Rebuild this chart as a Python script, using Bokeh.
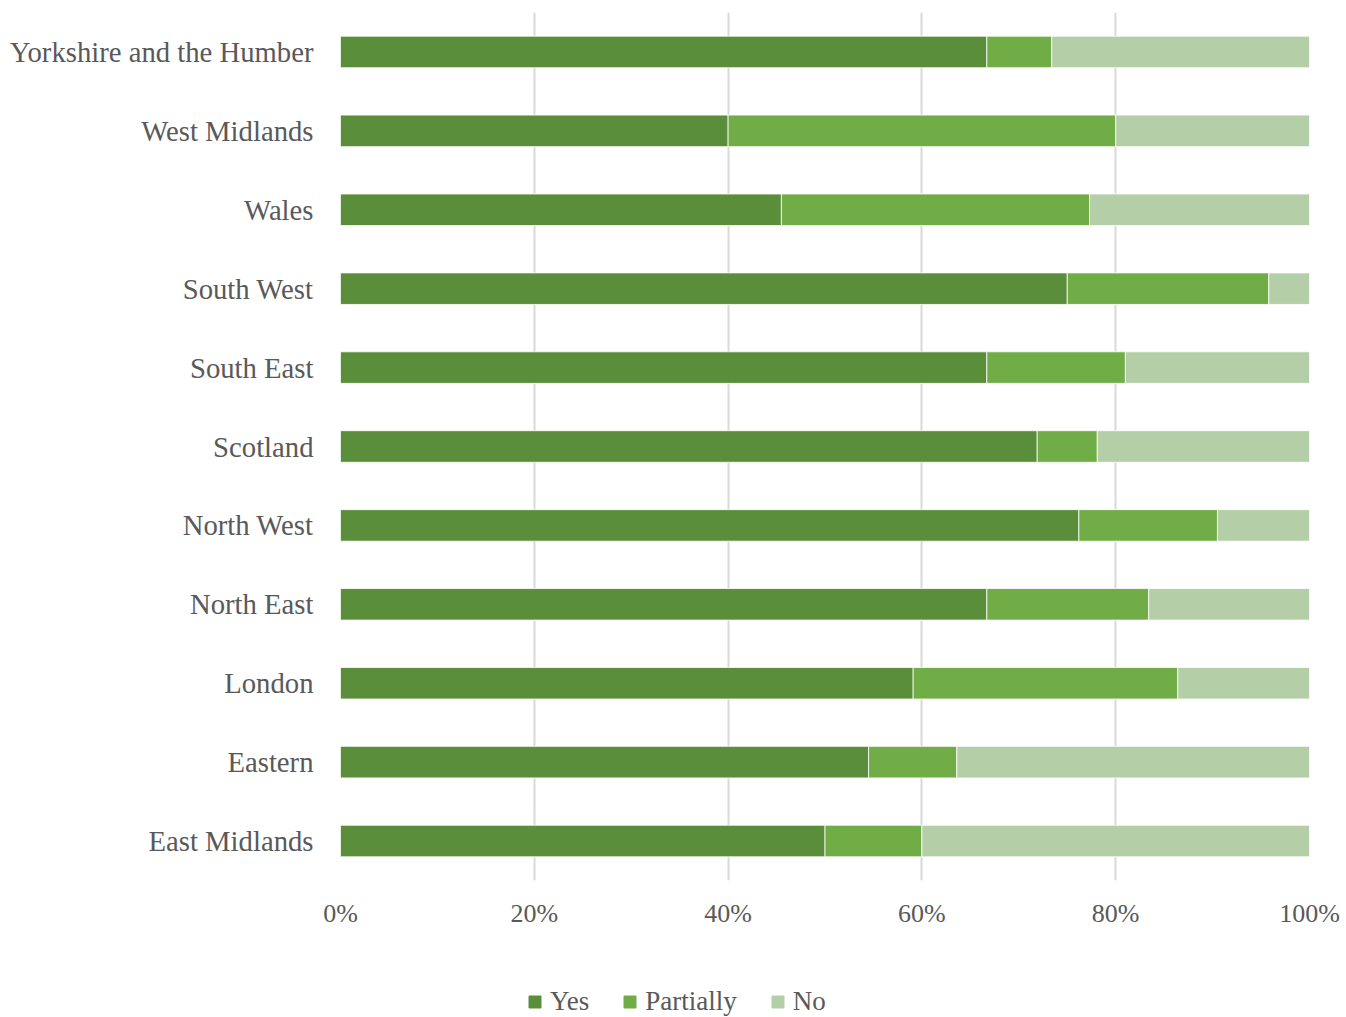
from bokeh.plotting import figure
from bokeh.layouts import column
from bokeh.models import Legend, LegendItem, FactorRange, FixedTicker, ColumnDataSource
from bokeh.embed import file_html
from bokeh.resources import INLINE

regions = ["East Midlands", "Eastern", "London", "North East", "North West", "Scotland",
           "South East", "South West", "Wales", "West Midlands", "Yorkshire and the Humber"]
yes = [50.0, 54.5, 59.1, 66.7, 76.2, 71.9, 66.7, 75.0, 45.5, 40.0, 66.7]
partially = [10.0, 9.1, 27.3, 16.7, 14.3, 6.2, 14.3, 20.8, 31.8, 40.0, 6.7]
no = [40.0, 36.4, 13.6, 16.6, 9.5, 21.9, 19.0, 4.2, 22.7, 20.0, 26.6]
tick_values = [0, 20, 40, 60, 80, 100]
tick_labels = ["0%", "20%", "40%", "60%", "80%", "100%"]
series = ["Yes", "Partially", "No"]
colors = ["#5B8E3A", "#70AD47", "#B4CFA7"]

FONT = "Liberation Serif"
TEXT = "#595959"

src = ColumnDataSource(dict(region=regions, Yes=yes, Partially=partially, No=no))

p = figure(width=1346, height=957, output_backend="svg", toolbar_location=None,
           y_range=FactorRange(*regions), x_range=(0, 100),
           min_border_left=340, min_border_right=37, min_border_top=12, min_border_bottom=77)

rs = p.hbar_stack(series, y="region", height=0.4, color=colors, source=src,
                  line_color="white", line_width=0.8)

p.outline_line_color = None
p.ygrid.grid_line_color = None
p.xgrid.grid_line_color = "#D9D9D9"
p.xgrid.grid_line_width = 2
p.xaxis.ticker = FixedTicker(ticks=tick_values)
p.xaxis.major_label_overrides = {v: l for v, l in zip(tick_values, tick_labels)}
for ax in (p.xaxis, p.yaxis):
    ax.axis_line_color = None
    ax.major_tick_line_color = None
    ax.minor_tick_line_color = None
    ax.major_label_text_font = FONT
    ax.major_label_text_color = TEXT
p.yaxis.major_label_text_font_size = "28.7px"
p.yaxis.major_label_standoff = 21
p.xaxis.major_label_text_font_size = "26px"
p.xaxis.major_label_standoff = 12

# legend strip below the chart (frame is aligned with the main chart's frame)
lg = figure(width=1346, height=60, output_backend="svg", toolbar_location=None,
            x_range=(0, 1), y_range=(0, 1), x_axis_type=None, y_axis_type=None,
            min_border=0, min_border_left=0, min_border_right=0,
            min_border_top=0, min_border_bottom=0, outline_line_color=None)
lg.grid.visible = False
dummies = [lg.hbar(y=[-5], left=[0], right=[1], height=0.4, color=c) for c in colors]

legend = Legend(items=[LegendItem(label=s, renderers=[r]) for s, r in zip(series, dummies)],
                orientation="horizontal", location=(187, 0),
                label_text_font=FONT, label_text_font_size="27px", label_text_color=TEXT,
                glyph_width=15, glyph_height=15, spacing=33, label_standoff=8,
                border_line_color=None, background_fill_alpha=0, margin=0, padding=0)
lg.add_layout(legend, "center")

layout = column(p, lg, spacing=0)
open("out.html", "w").write(file_html(layout, INLINE))
